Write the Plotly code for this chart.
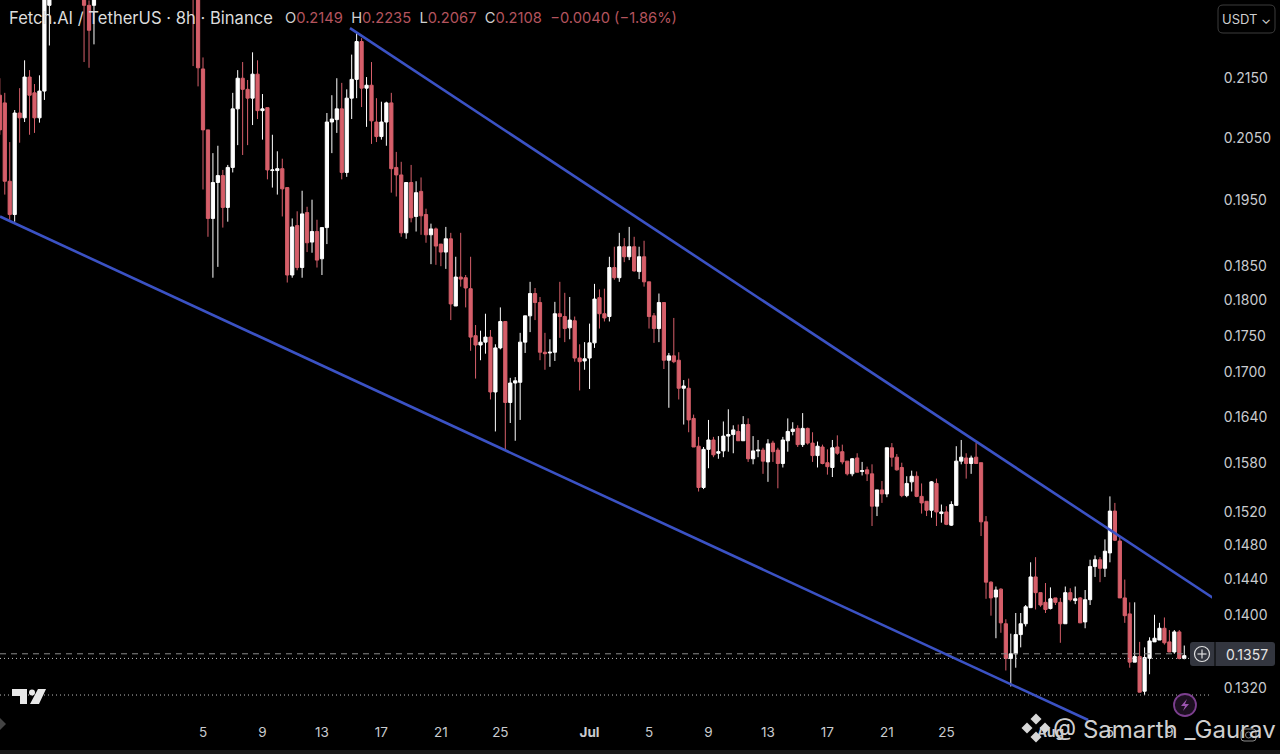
import plotly.graph_objects as go
import pandas as pd

# bar offsets (8h bars) from 5 June; bars wholly above the visible window are left out
bar_offsets = list(range(-41, -30)) + [-24, -23, -22, -2, -1] + list(range(0, 199))
base_date = pd.Timestamp("2023-06-05")

opens = [.2121,.2108,.1980,.1928,.2091,.2083,.2152,.2125,.2083,.2128,.2279,
.2325,.2279,.2279,
.2344,.2306,
.2166,.2063,.1922,.1978,.1989,.1939,.2002,.2098,.2150,.2131,
.2116,.2157,.2095,.2100,.1997,.1997,.2000,.1970,.1837,.1911,
.1848,.1931,.1886,.1902,.1861,.1908,.2076,.2080,.2098,.1994,
.2116,.2148,.2214,.2133,.2138,.2076,.2052,.2076,.2108,.2002,
.1990,.1900,.1978,.1925,.1964,.1928,.1897,.1906,.1883,.1871,
.1891,.1792,.1834,.1833,.1817,.1750,.1737,.1741,.1748,.1673,
.1733,.1770,.1659,.1685,.1686,.1741,.1778,.1810,.1797,.1727,
.1726,.1727,.1781,.1777,.1761,.1771,.1719,.1715,.1719,.1740,
.1804,.1781,.1777,.1848,.1833,.1879,.1864,.1879,.1842,.1864,
.1827,.1778,.1760,.1797,.1716,.1722,.1716,.1678,.1678,.1638,
.1602,.1550,.1598,.1610,.1593,.1596,.1615,.1617,.1621,.1609,
.1630,.1586,.1596,.1597,.1582,.1606,.1597,.1580,.1609,.1621,
.1625,.1604,.1625,.1606,.1590,.1601,.1581,.1575,.1601,.1595,
.1583,.1567,.1587,.1570,.1572,.1567,.1527,.1547,.1542,.1600,
.1588,.1575,.1540,.1557,.1564,.1539,.1533,.1522,.1555,.1518,
.1520,.1504,.1528,.1583,.1587,.1580,.1588,.1581,.1508,.1437,
.1420,.1429,.1390,.1352,.1357,.1378,.1390,.1408,.1443,.1425,
.1414,.1407,.1419,.1414,.1390,.1425,.1416,.1419,.1392,.1417,
.1455,.1463,.1453,.1471,.1521,.1485,.1419,.1401,.1348,.1354,
.1317,.1352,.1370,.1372,.1385,.1370,.1359,.1381,.1352]

highs = [.2150,.2125,.2043,.2096,.2133,.2181,.2164,.2140,.2155,.2344,.2344,
.2344,.2288,.2344,
.2360,.2344,
.2186,.2063,.2025,.2037,.1998,.2006,.2125,.2164,.2178,.2147,
.2195,.2181,.2123,.2100,.2055,.2028,.2016,.1970,.1922,.1933,
.1965,.1940,.1951,.1920,.1908,.2091,.2121,.2150,.2142,.2131,
.2191,.2229,.2220,.2152,.2178,.2116,.2110,.2110,.2125,.2027,
.2011,.1978,.2006,.1980,.1986,.1937,.1914,.1908,.1883,.1909,
.1900,.1864,.1900,.1837,.1864,.1765,.1757,.1781,.1758,.1738,
.1790,.1770,.1692,.1693,.1754,.1778,.1827,.1818,.1805,.1754,
.1745,.1798,.1827,.1811,.1805,.1777,.1738,.1741,.1767,.1824,
.1816,.1817,.1864,.1879,.1900,.1892,.1909,.1894,.1879,.1888,
.1827,.1782,.1810,.1797,.1726,.1775,.1727,.1689,.1691,.1643,
.1614,.1601,.1636,.1614,.1615,.1634,.1650,.1629,.1630,.1641,
.1638,.1615,.1610,.1600,.1611,.1609,.1600,.1614,.1638,.1633,
.1629,.1645,.1626,.1620,.1608,.1604,.1598,.1610,.1616,.1604,
.1583,.1587,.1593,.1582,.1576,.1579,.1547,.1558,.1600,.1606,
.1592,.1581,.1564,.1571,.1570,.1555,.1533,.1558,.1561,.1529,
.1527,.1533,.1602,.1610,.1593,.1590,.1606,.1581,.1515,.1438,
.1432,.1430,.1395,.1379,.1402,.1402,.1411,.1460,.1466,.1425,
.1436,.1431,.1419,.1419,.1432,.1430,.1432,.1420,.1428,.1463,
.1468,.1466,.1487,.1539,.1531,.1491,.1440,.1414,.1414,.1370,
.1364,.1375,.1400,.1391,.1397,.1383,.1383,.1383,.1366]

lows = [.2055,.1959,.1920,.1917,.2042,.2076,.2055,.2058,.2075,.2113,.2207,
.2178,.2168,.2209,
.2171,.2136,
.1967,.1894,.1833,.1849,.1908,.1917,.1994,.2038,.2022,.2038,
.2071,.2081,.2047,.1983,.1970,.1959,.1925,.1826,.1833,.1844,
.1833,.1871,.1870,.1848,.1837,.1883,.2025,.2058,.1983,.1987,
.2081,.2116,.2101,.2068,.2040,.2043,.2047,.2037,.1962,.1956,
.1894,.1891,.1916,.1902,.1897,.1885,.1853,.1852,.1850,.1846,
.1772,.1792,.1820,.1790,.1729,.1691,.1716,.1725,.1663,.1621,
.1731,.1597,.1632,.1609,.1636,.1726,.1755,.1772,.1716,.1703,
.1707,.1715,.1747,.1741,.1745,.1714,.1675,.1703,.1677,.1733,
.1760,.1770,.1770,.1830,.1827,.1856,.1859,.1842,.1831,.1820,
.1760,.1740,.1741,.1704,.1652,.1712,.1663,.1630,.1620,.1601,
.1545,.1548,.1574,.1588,.1586,.1588,.1595,.1593,.1609,.1609,
.1582,.1579,.1588,.1567,.1557,.1582,.1549,.1575,.1595,.1616,
.1601,.1601,.1604,.1582,.1575,.1579,.1566,.1563,.1591,.1579,
.1565,.1564,.1569,.1565,.1558,.1503,.1515,.1531,.1538,.1576,
.1571,.1538,.1538,.1545,.1538,.1518,.1515,.1513,.1503,.1507,
.1504,.1503,.1528,.1579,.1561,.1567,.1580,.1491,.1418,.1399,
.1374,.1380,.1339,.1322,.1342,.1364,.1387,.1408,.1406,.1409,
.1402,.1406,.1411,.1369,.1390,.1415,.1412,.1391,.1385,.1411,
.1443,.1437,.1443,.1460,.1485,.1419,.1391,.1342,.1348,.1316,
.1313,.1335,.1370,.1372,.1367,.1359,.1357,.1351,.1351]

closes = [.2063,.1980,.1928,.2091,.2083,.2152,.2121,.2083,.2128,.2325,.2325,
.2279,.2234,.2325,
.2306,.2168,
.2063,.1922,.1978,.1989,.1939,.2002,.2098,.2150,.2131,.2116,
.2157,.2095,.2098,.1998,.1998,.2000,.1968,.1837,.1909,.1848,
.1929,.1885,.1902,.1859,.1908,.2076,.2081,.2098,.1994,.2116,
.2148,.2214,.2133,.2138,.2078,.2052,.2076,.2108,.2000,.1990,
.1900,.1978,.1923,.1962,.1926,.1897,.1906,.1880,.1871,.1891,
.1795,.1834,.1831,.1818,.1748,.1737,.1741,.1748,.1673,.1733,
.1770,.1659,.1685,.1688,.1741,.1778,.1810,.1797,.1727,.1725,
.1727,.1781,.1777,.1760,.1772,.1719,.1714,.1718,.1740,.1802,
.1781,.1775,.1848,.1833,.1879,.1864,.1879,.1843,.1864,.1827,
.1777,.1760,.1797,.1716,.1722,.1714,.1678,.1681,.1636,.1601,
.1550,.1598,.1610,.1591,.1595,.1615,.1617,.1623,.1609,.1630,
.1586,.1596,.1597,.1583,.1605,.1595,.1580,.1610,.1621,.1624,
.1604,.1625,.1606,.1590,.1602,.1580,.1576,.1600,.1593,.1582,
.1567,.1586,.1569,.1571,.1567,.1527,.1547,.1542,.1600,.1588,
.1572,.1540,.1555,.1564,.1539,.1531,.1522,.1557,.1520,.1520,
.1505,.1529,.1583,.1588,.1580,.1587,.1580,.1508,.1437,.1419,
.1428,.1391,.1352,.1357,.1378,.1390,.1409,.1443,.1425,.1411,
.1406,.1418,.1414,.1390,.1425,.1417,.1418,.1391,.1417,.1455,
.1463,.1453,.1473,.1521,.1486,.1419,.1399,.1348,.1354,.1316,
.1353,.1371,.1374,.1385,.1369,.1359,.1381,.1352,.1355]

# trend lines (date, price)
upper_dates = ["2023-06-14 21:17", "2023-08-11 22:24"]
upper_prices = [0.2238, 0.1419]
lower_dates = ["2023-05-22 08:18", "2023-08-03 12:48"]
lower_prices = [0.1925, 0.1287]

# reference price lines
x_window = ["2023-05-22 08:18", "2023-08-11 20:48"]
last_price = 0.1357
high_visible_line = 0.1352
low_visible_line = 0.1313
tag_stop_date = "2023-08-10 00:00"

y_ticks = [0.2150,0.2050,0.1950,0.1850,0.1800,0.1750,0.1700,0.1640,0.1580,0.1520,0.1480,0.1440,0.1400,0.1320]
x_tick_dates = ["2023-06-05","2023-06-09","2023-06-13","2023-06-17","2023-06-21","2023-06-25","2023-07-01",
                "2023-07-05","2023-07-09","2023-07-13","2023-07-17","2023-07-21","2023-07-25","2023-08-01",
                "2023-08-05","2023-08-09"]
x_tick_text = ["5","9","13","17","21","25","<b>Jul</b>","5","9","13","17","21","25","<b>Aug</b>","5","9"]

RED = "#d65f6a"
BLUE = "#3b52c4"
LABEL = "#c9cbcf"
FONT = "Inter"
PW, PH = 1212, 722   # plot area in pixels


def fx(x):
    return x / PW


def fy(y):
    return 1 - y / PH


dates = [base_date + pd.Timedelta(hours=8 * k) for k in bar_offsets]

fig = go.Figure()
fig.add_trace(go.Candlestick(
    x=dates, open=opens, high=highs, low=lows, close=closes,
    increasing=dict(line=dict(color="#ffffff", width=1), fillcolor="#ffffff"),
    decreasing=dict(line=dict(color=RED, width=1), fillcolor=RED),
    whiskerwidth=0, showlegend=False, hoverinfo="skip",
))
fig.add_trace(go.Scatter(x=[x_window[0], tag_stop_date], y=[last_price, last_price], mode="lines",
                         line=dict(color="#8a8a8a", width=1, dash="6px,5px"), showlegend=False, hoverinfo="skip"))
fig.add_trace(go.Scatter(x=x_window, y=[high_visible_line, high_visible_line], mode="lines",
                         line=dict(color="#bdbdbd", width=1, dash="1px,3px"), showlegend=False, hoverinfo="skip"))
fig.add_trace(go.Scatter(x=x_window, y=[low_visible_line, low_visible_line], mode="lines",
                         line=dict(color="#bdbdbd", width=1, dash="1px,3px"), showlegend=False, hoverinfo="skip"))
fig.add_trace(go.Scatter(x=upper_dates, y=upper_prices, mode="lines",
                         line=dict(color=BLUE, width=2.6), showlegend=False, hoverinfo="skip"))
fig.add_trace(go.Scatter(x=lower_dates, y=lower_prices, mode="lines",
                         line=dict(color=BLUE, width=2.6), showlegend=False, hoverinfo="skip"))


def rect(x0, y0, x1, y1, fill=None, line=None, r=0, layer="above"):
    if r:
        p = (f"M{fx(x0+r)},{fy(y0)} L{fx(x1-r)},{fy(y0)} Q{fx(x1)},{fy(y0)} {fx(x1)},{fy(y0+r)} "
             f"L{fx(x1)},{fy(y1-r)} Q{fx(x1)},{fy(y1)} {fx(x1-r)},{fy(y1)} L{fx(x0+r)},{fy(y1)} "
             f"Q{fx(x0)},{fy(y1)} {fx(x0)},{fy(y1-r)} L{fx(x0)},{fy(y0+r)} Q{fx(x0)},{fy(y0)} {fx(x0+r)},{fy(y0)} Z")
        return dict(type="path", path=p, xref="paper", yref="paper", fillcolor=fill or "rgba(0,0,0,0)",
                    line=dict(color=line or "rgba(0,0,0,0)", width=1), layer=layer)
    return dict(type="rect", x0=fx(x0), x1=fx(x1), y0=fy(y0), y1=fy(y1), xref="paper", yref="paper",
                fillcolor=fill or "rgba(0,0,0,0)", line=dict(color=line or "rgba(0,0,0,0)", width=1), layer=layer)


def poly(points, fill=None, line=None, width=1):
    p = "M" + " L".join(f"{fx(x)},{fy(y)}" for x, y in points) + (" Z" if fill else "")
    return dict(type="path", path=p, xref="paper", yref="paper", fillcolor=fill or "rgba(0,0,0,0)",
                line=dict(color=line or "rgba(0,0,0,0)", width=width), layer="above")


def circle(cx, cy, r, line, fill=None, width=1.5):
    return dict(type="circle", x0=fx(cx - r), x1=fx(cx + r), y0=fy(cy + r), y1=fy(cy - r), xref="paper", yref="paper",
                line=dict(color=line, width=width), fillcolor=fill or "rgba(0,0,0,0)", layer="above")


def diamond(cx, cy, r, fill="#d8d8d8"):
    return poly([(cx, cy - r), (cx + r, cy), (cx, cy + r), (cx - r, cy)], fill=fill)


shapes = [
    rect(0, 750, 1280, 754, fill="#1b1b1b"),
    rect(1218, 5, 1275, 33, line="#3c3c3c", r=5),
    rect(1190, 642, 1275, 666, fill="#33363f", r=3),
    poly([(1215, 642), (1215, 666)], line="#000000", width=1),
    circle(1202, 654, 7.5, "#e0e0e0", width=1.2),
    poly([(1197.5, 654), (1206.5, 654)], line="#e0e0e0", width=1.2),
    poly([(1202, 649.5), (1202, 658.5)], line="#e0e0e0", width=1.2),
    # TradingView mark
    poly([(12, 689), (27, 689), (27, 704), (20, 704), (20, 696), (12, 696)], fill="#e8e8e8"),
    circle(32, 692.5, 3, "#e8e8e8", fill="#e8e8e8", width=0),
    poly([(38, 689), (46, 689), (39, 704), (30, 704)], fill="#e8e8e8"),
    # lightning badge
    circle(1185, 705, 11, "#7c3f8f", fill="#1c0f20", width=1.8),
    poly([(1187, 699), (1181, 706), (1185, 706), (1183, 711), (1189, 704), (1185, 704)], fill="#9c55b0"),
    # watermark logo: Binance style cluster of diamonds
    diamond(1036, 719, 5.5),
    diamond(1027, 728, 5.5),
    diamond(1045, 728, 5.5),
    diamond(1036, 737, 5.5),
    diamond(1036, 728, 3, fill="#000000"),
    # camera glyph at the bottom right
    rect(1241, 729, 1256, 741, line="#8a8a8a", r=3),
    circle(1248.5, 735, 3, "#8a8a8a", width=1),
    # corner marker
    poly([(0, 718), (6, 724), (0, 730)], fill="#444444"),
]

annotations = []


def text(x, y, s, size=13, color=LABEL, anchor="left"):
    annotations.append(dict(x=fx(x), y=fy(y), xref="paper", yref="paper", text=s, showarrow=False,
                            xanchor=anchor, yanchor="middle", align=anchor,
                            font=dict(family=FONT, size=size, color=color)))


header_red = "#b4545e"
text(7, 18, "Fetch.AI / TetherUS · 8h · Binance", 16.6, "#dcdcdc")
text(283, 18,
     f"O<span style='color:{header_red}'>0.2149</span>  H<span style='color:{header_red}'>0.2235</span>  "
     f"L<span style='color:{header_red}'>0.2067</span>  C<span style='color:{header_red}'>0.2108</span>  "
     f"<span style='color:{header_red}'>−0.0040 (−1.86%)</span>", 14.7, "#d0d0d0")
text(1246, 19, "USDT ⌄", 13, "#cfcfcf", "center")
text(1246.5, 654.5, "0.1357", 14, "#e4e4e4", "center")
text(1164, 729, "@ Samarth _Gaurav", 24, "#cfcfcf", "center")

fig.update_layout(
    width=1280, height=754,
    margin=dict(l=0, r=1280 - PW, t=0, b=754 - PH, autoexpand=False),
    paper_bgcolor="#000000", plot_bgcolor="#000000",
    boxgap=0, boxgroupgap=0.35,
    showlegend=False, shapes=shapes, annotations=annotations,
    font=dict(family=FONT, color=LABEL, size=13),
    xaxis=dict(
        type="date", range=x_window, rangeslider=dict(visible=False), showgrid=False, zeroline=False,
        showline=False, ticks="", tickmode="array", tickvals=x_tick_dates, ticktext=x_tick_text,
        tickfont=dict(family=FONT, size=13.5, color=LABEL),
    ),
    yaxis=dict(
        type="log", side="right", range=[-0.8911, -0.6404], autorange=False, showgrid=False, zeroline=False,
        showline=False, ticks="outside", ticklen=8, tickcolor="rgba(0,0,0,0)", tickmode="array",
        tickvals=y_ticks, ticktext=[f"{v:.4f}" for v in y_ticks],
        tickfont=dict(family=FONT, size=14, color=LABEL),
    ),
)

fig.write_html("out.html", config={"displayModeBar": False},
               post_script="document.body.style.margin='0';document.body.style.background='#000';")
